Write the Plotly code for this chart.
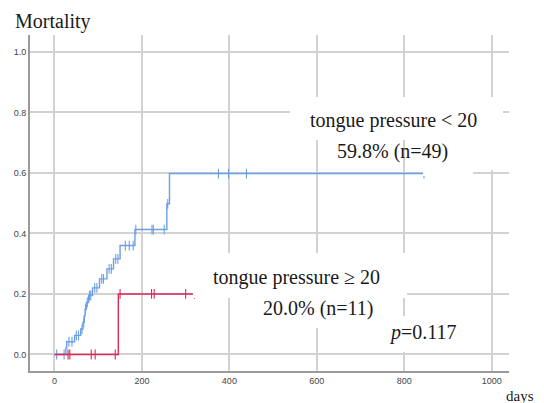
import plotly.graph_objects as go

# ---- data ----
x_ticks = [0, 200, 400, 600, 800, 1000]
y_ticks = [0.0, 0.2, 0.4, 0.6, 0.8, 1.0]
y_tick_labels = ["0.0", "0.2", "0.4", "0.6", "0.8", "1.0"]

# tongue pressure < 20 (n=49)
low_event_days = [26, 28, 46, 60, 65, 68, 70, 73, 78, 87, 103, 120, 135, 150, 184, 257, 263]
low_event_mort = [0.021, 0.042, 0.063, 0.084, 0.106, 0.128, 0.15, 0.172, 0.195, 0.22,
                  0.25, 0.283, 0.316, 0.36, 0.413, 0.498, 0.598]
low_censor_days = [5, 22, 33, 40, 50, 55, 63, 67, 71, 75, 80, 83, 92, 97, 108, 112, 125,
                   130, 140, 145, 162, 171, 180, 186, 223, 226, 251, 259, 375, 398, 439, 845]

# tongue pressure >= 20 (n=11)
high_event_days = [146]
high_event_mort = [0.2]
high_censor_days = [31, 35, 84, 93, 139, 150, 222, 228, 300, 320]

label_low = ["tongue pressure < 20", "59.8% (n=49)"]
label_high = ["tongue pressure \u2265 20", "20.0% (n=11)"]
p_text = "<i>p</i>=0.117"

BLUE = "#6c9fe4"
RED = "#dc2a58"


def step_curve(ev_days, ev_mort, cens_days):
    end = max(max(ev_days), max(cens_days))
    xs = [0] + list(ev_days) + [end]
    ys = [0] + list(ev_mort) + [ev_mort[-1]]
    cy = []
    for c in cens_days:
        v = 0.0
        for d, m in zip(ev_days, ev_mort):
            if d <= c:
                v = m
        cy.append(v)
    return xs, ys, cy


fig = go.Figure()
for ev_d, ev_m, cd, col in [(low_event_days, low_event_mort, low_censor_days, BLUE),
                            (high_event_days, high_event_mort, high_censor_days, RED)]:
    xs, ys, cy = step_curve(ev_d, ev_m, cd)
    fig.add_trace(go.Scatter(x=xs, y=ys, mode="lines", line=dict(color=col, width=1.4, shape="hv"),
                             showlegend=False, hoverinfo="skip"))
    fig.add_trace(go.Scatter(x=cd, y=cy, mode="markers",
                             marker=dict(symbol="line-ns", size=7, line=dict(color=col, width=1.1)),
                             showlegend=False, hoverinfo="skip"))

# white label boxes (paper coords)
boxes = [
    (0.5428, 0.9875, 0.6875, 0.8155),
    (0.8205, 0.977, 0.598, 0.6875),
    (0.8205, 0.9248, 0.580, 0.598),
    (0.3403, 0.7871, 0.2173, 0.3512),
    (0.4697, 0.7683, 0.128, 0.2173),
    (0.7307, 0.9395, 0.0565, 0.1637),
]
for x0, x1, y0, y1 in boxes:
    fig.add_shape(type="rect", xref="paper", yref="paper", x0=x0, x1=x1, y0=y0, y1=y1,
                  fillcolor="white", line=dict(width=0), layer="above")

SERIF = "Liberation Serif, Times New Roman, serif"
TXT = "#1a1a1a"
texts = [
    (label_low[0], 0.7589, 0.747),
    (label_low[1], 0.7568, 0.6518),
    (label_high[0], 0.5564, 0.2768),
    (label_high[1], 0.6033, 0.1875),
    (p_text, 0.8215, 0.1131),
]
for t, x, y in texts:
    fig.add_annotation(text=t, x=x, y=y, xref="paper", yref="paper", showarrow=False,
                       xanchor="center", yanchor="middle",
                       font=dict(family=SERIF, size=20, color=TXT))

fig.add_annotation(text="Mortality", x=-0.0361, y=1.0387, xref="paper", yref="paper",
                   showarrow=False, xanchor="left", yanchor="middle",
                   font=dict(family=SERIF, size=20, color=TXT))
fig.add_annotation(text="days", x=1.024, y=-0.0744, xref="paper", yref="paper",
                   showarrow=False, xanchor="center", yanchor="middle",
                   font=dict(family=SERIF, size=15, color=TXT))

# page body has an 8px default margin, so the figure is 8px smaller than the window
fig.update_layout(
    width=536, height=395,
    margin=dict(l=22, r=35, t=27, b=32, autoexpand=False),
    paper_bgcolor="white", plot_bgcolor="white",
    showlegend=False,
)
fig.update_xaxes(range=[-56, 1039.5], tickvals=x_ticks, ticktext=[str(v) for v in x_ticks],
                 showgrid=True, gridcolor="#d2d2d2", gridwidth=1.5, zeroline=False,
                 showline=True, linecolor="#9a9a9a", linewidth=2, ticks="", automargin=False,
                 tickfont=dict(family="Liberation Sans, Arial, sans-serif", size=9, color="#444"))
fig.update_yaxes(range=[-0.0546, 1.056], tickvals=y_ticks, ticktext=y_tick_labels,
                 showgrid=True, gridcolor="#d2d2d2", gridwidth=1.5, zeroline=False,
                 showline=True, linecolor="#9a9a9a", linewidth=2, ticks="", automargin=False,
                 tickfont=dict(family="Liberation Sans, Arial, sans-serif", size=9, color="#444"))

fig.write_html("out.html")
